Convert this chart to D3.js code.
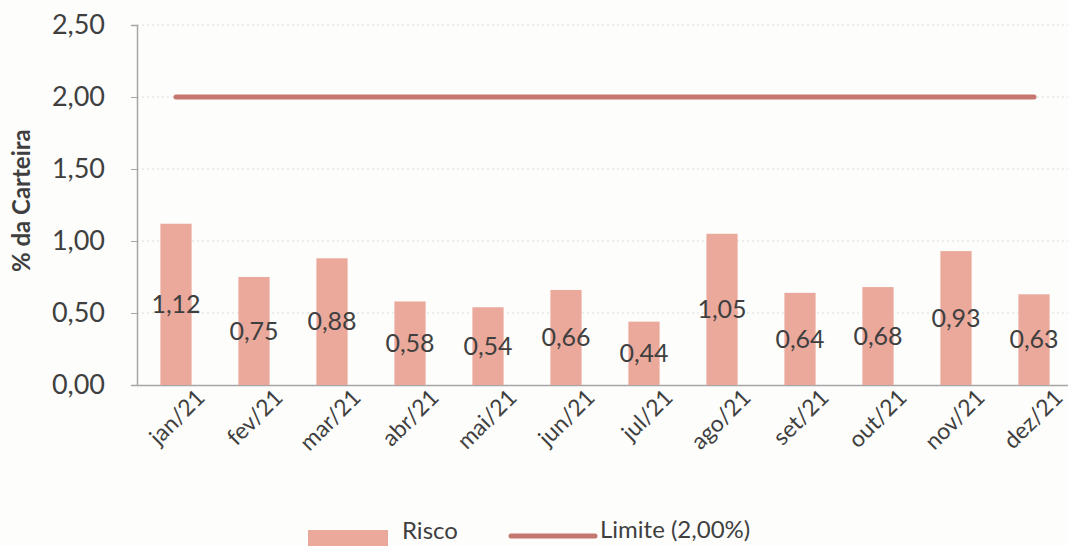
<!DOCTYPE html>
<html>
<head>
<meta charset="utf-8">
<script src="https://cdn.jsdelivr.net/npm/d3@7"></script>
<style>
  body { margin: 0; background: #fdfdfc; }
  svg { display: block; }
  text { font-family: Lato, "Open Sans", sans-serif; fill: #3f3f3f; }
</style>
</head>
<body>
<div id="chart"></div>
<script>
// Daten
const meses = ["jan/21", "fev/21", "mar/21", "abr/21", "mai/21", "jun/21",
               "jul/21", "ago/21", "set/21", "out/21", "nov/21", "dez/21"];
const risco = [1.12, 0.75, 0.88, 0.58, 0.54, 0.66, 0.44, 1.05, 0.64, 0.68, 0.93, 0.63];
const limite = [2.00, 2.00, 2.00, 2.00, 2.00, 2.00, 2.00, 2.00, 2.00, 2.00, 2.00, 2.00];
const yTicks = [0, 0.5, 1, 1.5, 2, 2.5];

const width = 1068, height = 546;
const margin = { top: 25, right: -5, bottom: 161, left: 137 };
const innerW = width - margin.left - margin.right;
const innerH = height - margin.top - margin.bottom;

const fmt = v => d3.format(".2f")(v).replace(".", ",");

const svg = d3.select("#chart").append("svg")
  .attr("width", width)
  .attr("height", height);

const g = svg.append("g")
  .attr("transform", `translate(${margin.left},${margin.top})`);

const x = d3.scaleBand().domain(meses).range([0, innerW]).paddingInner(0.6).paddingOuter(0.3);
const y = d3.scaleLinear().domain([0, 2.5]).range([innerH, 0]);

// Gitterlinien
g.append("g")
  .selectAll("line")
  .data(yTicks.filter(t => t > 0))
  .enter().append("line")
  .attr("x1", 0).attr("x2", innerW)
  .attr("y1", d => y(d)).attr("y2", d => y(d))
  .attr("stroke", "#dcdcdc")
  .attr("stroke-dasharray", "2,3");

// Y-Achse
const yAxis = g.append("g")
  .call(d3.axisLeft(y).tickValues(yTicks).tickFormat(fmt).tickSize(6).tickPadding(26));
yAxis.select(".domain").attr("stroke", "#a6a6a6").attr("stroke-width", 1.5);
yAxis.selectAll(".tick line").attr("stroke", "#a6a6a6");
yAxis.selectAll("text")
  .style("font-size", "27px")
  .style("font-family", "Lato, sans-serif")
  .attr("fill", "#3f3f3f");

// X-Achse
const xAxis = g.append("g")
  .attr("transform", `translate(0,${innerH})`)
  .call(d3.axisBottom(x).tickSize(0).tickPadding(14));
xAxis.select(".domain").attr("stroke", "#a6a6a6").attr("stroke-width", 1.5);
xAxis.selectAll("text")
  .style("font-size", "23px")
  .style("font-family", "Lato, sans-serif")
  .attr("fill", "#3f3f3f")
  .attr("text-anchor", "end")
  .attr("dx", "0.5em")
  .attr("dy", "0.75em")
  .attr("transform", "rotate(-45)");

// Y-Achsentitel
svg.append("text")
  .attr("transform", `translate(30,${margin.top + y(1.28)}) rotate(-90)`)
  .attr("text-anchor", "middle")
  .style("font-size", "24px")
  .style("font-weight", "700")
  .text("% da Carteira");

// Balken
g.selectAll("rect.bar")
  .data(risco)
  .enter().append("rect")
  .attr("class", "bar")
  .attr("x", (d, i) => x(meses[i]))
  .attr("y", d => y(d))
  .attr("width", x.bandwidth())
  .attr("height", d => innerH - y(d))
  .attr("fill", "#eba99c");

// Datenbeschriftungen
g.selectAll("text.lbl")
  .data(risco)
  .enter().append("text")
  .attr("class", "lbl")
  .attr("x", (d, i) => x(meses[i]) + x.bandwidth() / 2)
  .attr("y", d => (y(d) + innerH) / 2)
  .attr("dy", "0.35em")
  .attr("text-anchor", "middle")
  .style("font-size", "25px")
  .text(d => fmt(d));

// Limit-Linie
const line = d3.line()
  .x((d, i) => x(meses[i]) + x.bandwidth() / 2)
  .y(d => y(d));
g.append("path")
  .datum(limite)
  .attr("fill", "none")
  .attr("stroke", "#c5766f")
  .attr("stroke-width", 5)
  .attr("stroke-linecap", "round")
  .attr("d", line);

// Legende
const leg = svg.append("g").attr("transform", "translate(308,528)");
leg.append("rect").attr("x", 0).attr("y", 2).attr("width", 80).attr("height", 20).attr("fill", "#eba99c");
leg.append("text").attr("x", 94).attr("y", 11).style("font-size", "24px").text("Risco");
leg.append("line").attr("x1", 203).attr("x2", 287).attr("y1", 8).attr("y2", 8)
  .attr("stroke", "#c5766f").attr("stroke-width", 5).attr("stroke-linecap", "round");
leg.append("text").attr("x", 292).attr("y", 10).style("font-size", "24px").text("Limite (2,00%)");
</script>
</body>
</html>
